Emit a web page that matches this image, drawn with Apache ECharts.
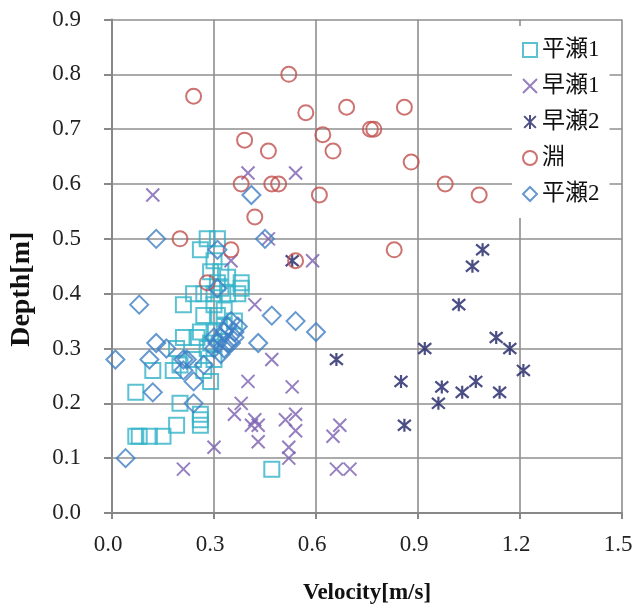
<!DOCTYPE html>
<html>
<head>
<meta charset="utf-8">
<script src="https://cdn.jsdelivr.net/npm/echarts@6/dist/echarts.min.js"></script>
<style>
  html, body { margin: 0; padding: 0; background: #fff; }
  #chart { width: 636px; height: 610px; }
</style>
</head>
<body>
<div id="chart"></div>
<script>
// Velocity [m/s] / depth [m] pairs for each habitat type
const hiraSe1 = [
  [0.28,0.50],[0.31,0.50],[0.26,0.48],[0.30,0.46],[0.29,0.44],[0.32,0.44],[0.34,0.43],[0.38,0.42],
  [0.24,0.40],[0.27,0.40],[0.30,0.40],[0.34,0.40],[0.37,0.40],[0.38,0.41],[0.31,0.42],[0.32,0.41],
  [0.21,0.38],[0.27,0.36],[0.33,0.37],[0.30,0.38],[0.31,0.36],[0.36,0.35],[0.33,0.34],[0.30,0.33],
  [0.26,0.33],[0.25,0.32],[0.21,0.32],[0.29,0.31],[0.19,0.30],[0.28,0.30],[0.24,0.28],[0.20,0.27],
  [0.30,0.28],[0.12,0.26],[0.18,0.26],[0.27,0.26],[0.29,0.24],[0.07,0.22],[0.20,0.20],[0.26,0.18],
  [0.26,0.17],[0.26,0.16],[0.19,0.16],[0.07,0.14],[0.08,0.14],[0.11,0.14],[0.15,0.14],[0.47,0.08]
];
const hayaSe1 = [
  [0.12,0.58],[0.40,0.62],[0.54,0.62],[0.46,0.50],[0.35,0.46],[0.59,0.46],[0.42,0.38],[0.47,0.28],
  [0.40,0.24],[0.53,0.23],[0.38,0.20],[0.36,0.18],[0.41,0.16],[0.42,0.17],[0.43,0.16],[0.43,0.13],
  [0.51,0.17],[0.54,0.18],[0.54,0.15],[0.52,0.12],[0.52,0.10],[0.30,0.12],[0.21,0.08],[0.65,0.14],
  [0.67,0.16],[0.66,0.08],[0.70,0.08]
];
const hayaSe2 = [
  [0.53,0.46],[1.09,0.48],[1.06,0.45],[1.02,0.38],[1.13,0.32],[1.17,0.30],[0.92,0.30],[1.21,0.26],
  [0.66,0.28],[0.85,0.24],[0.97,0.23],[0.96,0.20],[1.03,0.22],[1.07,0.24],[1.14,0.22],[0.86,0.16]
];
const fuchi = [
  [0.24,0.76],[0.52,0.80],[0.57,0.73],[0.62,0.69],[0.69,0.74],[0.86,0.74],[0.76,0.70],[0.77,0.70],
  [0.65,0.66],[0.88,0.64],[0.98,0.60],[1.08,0.58],[0.61,0.58],[0.83,0.48],[0.54,0.46],[0.39,0.68],
  [0.46,0.66],[0.38,0.60],[0.47,0.60],[0.49,0.60],[0.42,0.54],[0.20,0.50],[0.35,0.48],[0.28,0.42]
];
const hiraSe2 = [
  [0.41,0.58],[0.13,0.50],[0.45,0.50],[0.31,0.48],[0.31,0.41],[0.08,0.38],[0.47,0.36],[0.54,0.35],
  [0.60,0.33],[0.43,0.31],[0.01,0.28],[0.11,0.28],[0.12,0.22],[0.04,0.10],[0.24,0.24],[0.24,0.20],
  [0.13,0.31],[0.16,0.30],[0.21,0.28],[0.22,0.28],[0.27,0.27],[0.21,0.26],[0.30,0.30],[0.31,0.31],
  [0.32,0.32],[0.33,0.33],[0.34,0.34],[0.35,0.35],[0.36,0.33],[0.37,0.34],[0.35,0.31],[0.33,0.30],
  [0.32,0.29],[0.36,0.32],[0.34,0.31],[0.30,0.32]
];

const seriesNames = ['平瀬1', '早瀬1', '早瀬2', '淵', '平瀬2'];
const xTicks = { min: 0, max: 1.5, step: 0.3 };
const yTicks = { min: 0, max: 0.9, step: 0.1 };

const serif = '"Liberation Serif", "Times New Roman", serif';
const cjk = '"Liberation Serif", "Noto Sans CJK JP", serif';

const crossPath = 'path://M0,0L10,10M10,0L0,10';
const starPath = 'path://M0,0L10,10M10,0L0,10M5,-1L5,11';

function hollow(color, width) {
  return { color: 'rgba(255,255,255,0)', borderColor: color, borderWidth: width };
}

const chart = echarts.init(document.getElementById('chart'), null, { renderer: 'canvas' });

chart.setOption({
  animation: false,
  backgroundColor: '#ffffff',
  grid: { left: 111, right: 14, top: 19.5, bottom: 95.5 },
  legend: {
    orient: 'vertical',
    left: 512,
    top: 26,
    width: 106,
    padding: [12, 10, 12, 10],
    backgroundColor: '#ffffff',
    itemWidth: 14,
    itemHeight: 14,
    itemGap: 12,
    textStyle: { fontFamily: cjk, fontSize: 23, color: '#111', lineHeight: 24 },
    data: seriesNames
  },
  xAxis: {
    type: 'value',
    min: xTicks.min, max: xTicks.max, interval: xTicks.step,
    name: 'Velocity[m/s]',
    nameLocation: 'middle',
    nameGap: 69,
    nameTextStyle: { fontFamily: serif, fontSize: 23, fontWeight: 'bold', color: '#111' },
    axisLine: { show: true, lineStyle: { color: '#888', width: 2 } },
    axisTick: { show: true, length: 6, lineStyle: { color: '#888', width: 2 } },
    axisLabel: {
      margin: 20, fontFamily: serif, fontSize: 23, color: '#222', padding: [0, 8, 0, 0],
      formatter: v => v.toFixed(1)
    },
    splitLine: { show: true, lineStyle: { color: '#8f8f8f', width: 1.6 } }
  },
  yAxis: {
    type: 'value',
    min: yTicks.min, max: yTicks.max, interval: yTicks.step,
    name: 'Depth[m]',
    nameLocation: 'middle',
    nameRotate: 90,
    nameGap: 76,
    nameTextStyle: { fontFamily: serif, fontSize: 28, fontWeight: 'bold', color: '#111', padding: [0, 46, 0, 0] },
    axisLine: { show: true, lineStyle: { color: '#888', width: 2 } },
    axisTick: { show: true, length: 8, lineStyle: { color: '#888', width: 2 } },
    axisLabel: {
      margin: 31, fontFamily: serif, fontSize: 23, color: '#222',
      formatter: v => v.toFixed(1)
    },
    splitLine: { show: true, lineStyle: { color: '#8f8f8f', width: 1.6 } }
  },
  series: [
    {
      name: seriesNames[0], type: 'scatter', data: hiraSe1,
      symbol: 'rect', symbolSize: 15,
      itemStyle: hollow('#33b3c8', 2)
    },
    {
      name: seriesNames[1], type: 'scatter', data: hayaSe1,
      symbol: crossPath, symbolSize: 13,
      itemStyle: hollow('#7a5fb0', 2)
    },
    {
      name: seriesNames[2], type: 'scatter', data: hayaSe2,
      symbol: starPath, symbolSize: 13,
      itemStyle: hollow('#1e2266', 2.2)
    },
    {
      name: seriesNames[3], type: 'scatter', data: fuchi,
      symbol: 'circle', symbolSize: 15,
      itemStyle: hollow('#c0504d', 2)
    },
    {
      name: seriesNames[4], type: 'scatter', data: hiraSe2,
      symbol: 'diamond', symbolSize: [18, 18],
      itemStyle: hollow('#3f7fc4', 2)
    }
  ]
});
</script>
</body>
</html>
